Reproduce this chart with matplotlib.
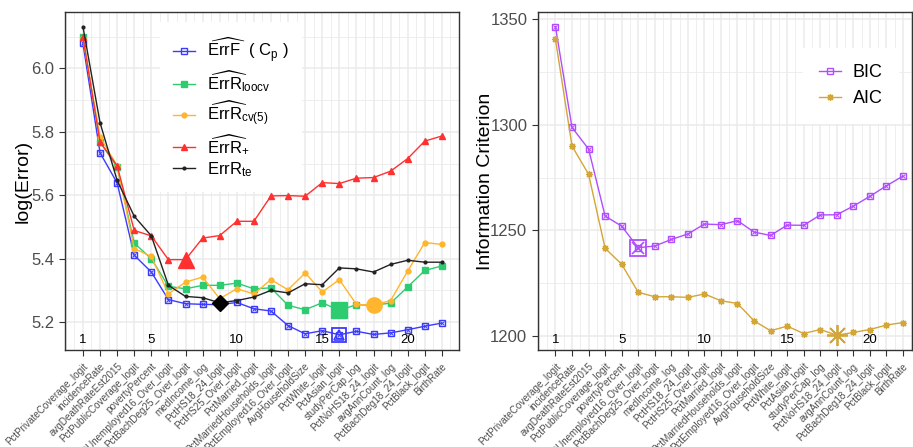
import numpy as np
import matplotlib
matplotlib.use("Agg")
import matplotlib.pyplot as plt
from matplotlib.ticker import MultipleLocator
from matplotlib.transforms import blended_transform_factory

plt.rcParams['font.family'] = ['Liberation Sans', 'DejaVu Sans']
plt.rcParams['mathtext.fontset'] = 'custom'
plt.rcParams['mathtext.rm'] = 'Liberation Sans'
plt.rcParams['mathtext.it'] = 'Liberation Sans:italic'
plt.rcParams['mathtext.bf'] = 'Liberation Sans:bold'

variables = ["PctPrivateCoverage_logit", "incidenceRate", "avgDeathRateEst2015",
             "PctPublicCoverage_logit", "povertyPercent", "PctUnemployed16_Over_logit",
             "PctBachDeg25_Over_logit", "medIncome_log", "PctHS18_24_logit",
             "PctHS25_Over_logit", "PctMarried_logit", "PctMarriedHouseholds_logit",
             "PctEmployed16_Over_logit", "AvgHouseholdSize", "PctWhite_logit",
             "PctAsian_logit", "studyPerCap_log", "PctNoHS18_24_logit",
             "avgAnnCount_log", "PctBachDeg18_24_logit", "PctBlack_logit", "BirthRate"]
steps = np.arange(1, len(variables) + 1)

errF_cp = [6.079, 5.734, 5.639, 5.411, 5.358, 5.271, 5.258, 5.256, 5.255, 5.262, 5.242,
           5.235, 5.189, 5.163, 5.173, 5.160, 5.171, 5.161, 5.166, 5.176, 5.187, 5.197]
errR_loocv = [6.100, 5.768, 5.689, 5.449, 5.400, 5.313, 5.305, 5.316, 5.316, 5.323, 5.305,
              5.308, 5.253, 5.239, 5.261, 5.237, 5.255, 5.253, 5.260, 5.311, 5.363, 5.377]
errR_cv5 = [6.095, 5.784, 5.693, 5.432, 5.407, 5.289, 5.326, 5.342, 5.274, 5.305, 5.289,
            5.334, 5.302, 5.355, 5.295, 5.334, 5.256, 5.253, 5.268, 5.361, 5.451, 5.445]
errR_plus = [6.098, 5.768, 5.693, 5.489, 5.472, 5.397, 5.397, 5.465, 5.473, 5.518, 5.518,
             5.598, 5.599, 5.597, 5.640, 5.637, 5.654, 5.656, 5.676, 5.716, 5.771, 5.787]
errR_te = [6.132, 5.829, 5.647, 5.534, 5.472, 5.316, 5.281, 5.277, 5.261, 5.268, 5.279,
           5.300, 5.292, 5.321, 5.318, 5.371, 5.368, 5.358, 5.382, 5.395, 5.389, 5.389]

bic = [1346.4, 1298.7, 1288.5, 1256.8, 1252.0, 1241.8, 1242.6, 1245.7, 1248.3, 1253.0, 1252.7,
       1254.6, 1249.2, 1247.6, 1252.5, 1252.4, 1257.3, 1257.4, 1261.5, 1266.1, 1271.1, 1275.7]
aic = [1340.4, 1289.9, 1276.6, 1241.5, 1234.0, 1220.7, 1218.6, 1218.6, 1218.3, 1219.9, 1216.7,
       1215.4, 1207.2, 1202.5, 1204.7, 1201.2, 1203.1, 1200.4, 1201.7, 1203.1, 1205.2, 1206.4]

num_labels = [1, 5, 10, 15, 20]

c_blue = "#3b3bff"
c_green = "#2ecc71"
c_orange = "#ffb52e"
c_red = "#ff3030"
c_black = "#222222"
c_purple = "#b04dff"
c_gold = "#d4a537"
grid_c = "#ebebeb"


def style_axes(ax, xlim, ylim, major, minor):
    ax.set_xlim(*xlim)
    ax.set_ylim(*ylim)
    ax.set_xticks(steps)
    ax.set_xticklabels(variables, rotation=45, ha='right', rotation_mode='anchor',
                       fontsize=7.1, color='#4d4d4d')
    ax.xaxis.set_minor_locator(MultipleLocator(0.5))
    ax.yaxis.set_major_locator(MultipleLocator(major))
    ax.yaxis.set_minor_locator(MultipleLocator(minor))
    ax.grid(which='major', color=grid_c, lw=1.1)
    ax.grid(which='minor', color=grid_c, lw=0.6)
    ax.set_axisbelow(True)
    ax.tick_params(axis='both', which='major', direction='out', length=4, color='#333333')
    ax.tick_params(axis='x', which='major', pad=4)
    ax.tick_params(axis='x', which='minor', length=0)
    ax.tick_params(axis='y', which='minor', length=0)
    ax.tick_params(axis='y', labelsize=12, labelcolor='#4d4d4d')
    for s in ax.spines.values():
        s.set_color('#333333')
        s.set_linewidth(1.0)
    tr = blended_transform_factory(ax.transData, ax.transAxes)
    for n in num_labels:
        ax.text(n, 0.012, str(n), transform=tr, ha='center', va='bottom', fontsize=9.5, color='black')


fig = plt.figure(figsize=(9.13, 4.47), dpi=100)
ax1 = fig.add_axes([0.0712, 0.217, 0.4315, 0.756])
ax2 = fig.add_axes([0.589, 0.217, 0.410, 0.756])

# left panel
ax1.plot(steps, errF_cp, color=c_blue, lw=1, marker='s', ms=4, mfc='none', mew=1,
         label=r'$\widehat{\mathrm{ErrF}}$  ( C$_\mathrm{p}$ )')
ax1.plot(steps, errF_cp, color=c_blue, lw=0, marker='x', ms=2.5, mew=0.7)
ax1.plot(steps, errR_loocv, color=c_green, lw=1, marker='s', ms=4,
         label=r'$\widehat{\mathrm{ErrR}}_{\mathrm{loocv}}$')
ax1.plot(steps, errR_cv5, color=c_orange, lw=1, marker='o', ms=3.5,
         label=r'$\widehat{\mathrm{ErrR}}_{\mathrm{cv(5)}}$')
ax1.plot(steps, errR_plus, color=c_red, lw=1, marker='^', ms=4,
         label=r'$\widehat{\mathrm{ErrR}}_{+}$')
ax1.plot(steps, errR_te, color=c_black, lw=1, marker='.', ms=4,
         label=r'ErrR$_{\mathrm{te}}$')

# highlighted minima
i = int(np.argmin(errF_cp))
ax1.plot(steps[i], errF_cp[i], marker='s', ms=10, mfc='none', mec=c_blue, mew=1.3)
ax1.plot(steps[i], errF_cp[i], marker='^', ms=7, mfc='none', mec=c_blue, mew=1.2)
i = int(np.argmin(errR_loocv))
ax1.plot(steps[i], errR_loocv[i], marker='s', ms=11, color=c_green)
i = int(np.argmin(errR_cv5))
ax1.plot(steps[i], errR_cv5[i], marker='o', ms=11, color=c_orange)
i = 6
ax1.plot(steps[i], errR_plus[i], marker='^', ms=12, color=c_red)
i = int(np.argmin(errR_te))
ax1.plot(steps[i], errR_te[i], marker='D', ms=8, color='black')

style_axes(ax1, (-0.05, 23.0), (5.112, 6.178), 0.2, 0.1)
ax1.set_ylabel('log(Error)', fontsize=14)
ax1.yaxis.set_label_coords(-0.085, 0.5)
leg1 = ax1.legend(loc='upper left', bbox_to_anchor=(0.22, 0.995), fontsize=12,
                  frameon=True, fancybox=False, edgecolor='none', framealpha=1,
                  handlelength=1.3, labelspacing=0.25, borderpad=0.8, handletextpad=0.7)

# right panel
ax2.plot(steps, bic, color=c_purple, lw=1, marker='s', ms=4, mfc='none', mew=1, label='BIC')
ax2.plot(steps, bic, color=c_purple, lw=0, marker='x', ms=2.5, mew=0.7)
ax2.plot(steps, aic, color=c_gold, lw=1, marker=(8, 2, 0), ms=5, mew=0.9, label='AIC')
i = int(np.argmin(bic))
ax2.plot(steps[i], bic[i], marker='s', ms=11, mfc='none', mec=c_purple, mew=1.3)
ax2.plot(steps[i], bic[i], marker='x', ms=8, mec=c_purple, mew=1.2)
i = int(np.argmin(aic))
ax2.plot(steps[i], aic[i], marker=(8, 2, 0), ms=15, mec=c_gold, mew=1.3)

style_axes(ax2, (-0.07, 22.55), (1193.4, 1353.3), 50, 25)
ax2.set_ylabel('Information Criterion', fontsize=14)
ax2.yaxis.set_label_coords(-0.118, 0.5)
leg2 = ax2.legend(loc='upper left', bbox_to_anchor=(0.685, 0.92), fontsize=13,
                  frameon=True, fancybox=False, edgecolor='none', framealpha=1,
                  handlelength=1.2, labelspacing=0.5, borderpad=0.9, handletextpad=0.65)

fig.savefig('out.png', dpi=100)
